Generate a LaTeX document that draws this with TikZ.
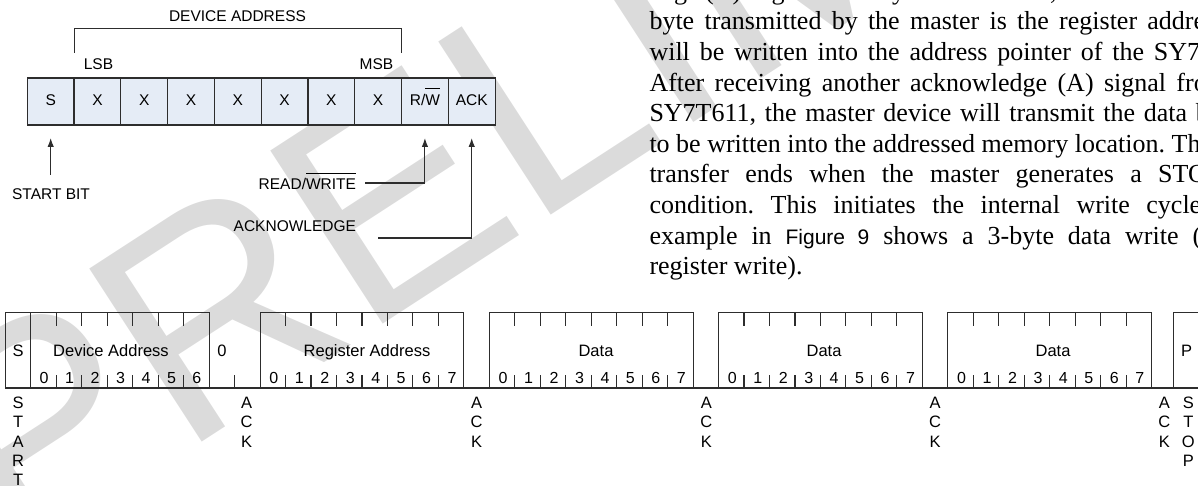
\documentclass[tikz,border=0pt]{standalone}
\usepackage{fontspec}
\setmainfont{Liberation Serif}
\newfontfamily\arial{Liberation Sans}
\usetikzlibrary{arrows.meta}
\definecolor{cellfill}{RGB}{229,236,246}
\definecolor{lncol}{RGB}{45,45,45}
\definecolor{wmcol}{RGB}{219,219,219}
\newcommand{\myovl}[2][6pt]{\setbox0=\hbox{#2}\rlap{\rule[\dimexpr\ht0+#1\relax]{\wd0}{0.9pt}}\box0}
\newcommand{\jl}[2]{\hbox spread #1{#2}}
\frenchspacing
\tikzset{
  every node/.style={inner sep=0pt, outer sep=0pt},
  cell/.style={draw=lncol, line width=1.2pt, fill=cellfill, minimum width=46.78pt, minimum height=47pt, text height=9pt, text depth=0pt, font=\arial\fontsize{15.5}{18}\selectfont},
  lbl/.style={font=\arial\fontsize{15.5}{18}\selectfont, anchor=base},
  blbl/.style={font=\arial\fontsize{16.5}{19}\selectfont, anchor=base},
  dig/.style={font=\arial\fontsize{16}{19}\selectfont, anchor=base},
  ln/.style={draw=lncol, line width=1.1pt},
  brk/.style={draw=lncol, line width=1pt},
  arr/.style={draw=lncol, line width=1.1pt, -{Latex[length=9pt,width=6.5pt]}},
  body/.style={font=\fontsize{26}{30.6}\selectfont, anchor=base west},
}
\begin{document}
\begin{tikzpicture}[x=1pt,y=-1pt]
\useasboundingbox (0,0) rectangle (1198,486);
\clip (0,0) rectangle (1198,486);
% watermark
\node[rotate=33, anchor=base west, text=wmcol, font=\arial\fontsize{300}{300}\selectfont] (wm) at (13.3,564.4) {PRELIMINARY};
% ---------- top diagram ----------
\node[cell] (c0) at (50.69,101.5) {S};
\foreach \i in {1,...,7}
  \node[cell] (c\i) at ({27.3+46.78*(\i+0.5)},101.5) {X};
\node[cell] (c8) at (424.93,101.5) {R/\myovl[6.5pt]{W}};
\node[cell] (c9) at (471.71,101.5) {ACK};
\draw[brk] ([yshift=25pt]c1.north west) -- ([yshift=49pt]c1.north west) -- ([yshift=49pt]c8.north west) -- ([yshift=25pt]c8.north west);
\node[lbl] (da) at (237.5,21.7) {DEVICE ADDRESS};
\node[lbl] (lsb) at (98.5,70) {LSB};
\node[lbl] (msb) at (376.5,70) {MSB};
\node[lbl] (stb) at (51,200) {START BIT};
\node[lbl, anchor=base east] (rwt) at (356,190) {READ/\myovl[5.5pt]{WRITE}};
\node[lbl, anchor=base east] (ackt) at (356,231.5) {ACKNOWLEDGE};
\coordinate (sbs) at (50.69,175);
\coordinate (rwl) at (365,183);
\coordinate (ackl) at (378,238);
\draw[arr] (sbs) -- ([yshift=-13pt]c0.south);
\draw[arr] (rwl) -| ([yshift=-13pt]c8.south);
\draw[arr] (ackl) -| ([yshift=-13pt]c9.south);
% ---------- bottom diagram ----------
\def\yt{312.7}
\def\yb{388}
\draw[ln] (5.4,\yb) -- (1199,\yb);
\draw[ln] ({5.4+25.47*8},\yb) -- ({5.4+25.47*8},\yt) -- (5.4,\yt) -- (5.4,\yb);
\draw[ln] ({5.4+25.47},\yt) -- ({5.4+25.47},\yb);
\foreach \a in {10,19,28,37}
  \draw[ln] ({5.4+25.47*\a},\yb) -- ({5.4+25.47*\a},\yt) -- ({5.4+25.47*(\a+8)},\yt) -- ({5.4+25.47*(\a+8)},\yb);
\draw[ln] (1173.3,\yb) -- (1173.3,\yt) -- (1199,\yt);
% ticks
\foreach \a/\n in {1/6,10/7,19/7,28/7,37/7}{
  \foreach \j in {1,...,\n}{
    \draw[ln] ({5.4+25.47*(\a+\j)},\yt) -- ({5.4+25.47*(\a+\j)},{\yt+13});
    \draw[ln] ({5.4+25.47*(\a+\j)},\yb) -- ({5.4+25.47*(\a+\j)},{\yb-13});
  }
}
\draw[ln] ({5.4+25.47*9},\yb) -- ({5.4+25.47*9},{\yb-13});
% digits
\foreach \d in {0,...,6}
  \node[dig] (dv\d) at ({5.4+25.47*(1+\d+0.5)+0.5},383.3) {\d};
\foreach \a/\nm in {10/ra,19/da1,28/da2,37/da3}{
  \foreach \d in {0,...,7}
    \node[dig] (\nm\d) at ({5.4+25.47*(\a+\d+0.5)+1},383.3) {\d};
}
% labels
\node[blbl] (bs) at (18.1,356) {S};
\node[blbl] (bdev) at (111,356) {Device Address};
\node[blbl] (bzero) at (221.9,356) {0};
\node[blbl] (breg) at (367,356) {Register Address};
\node[blbl] (bd1) at (596,356) {Data};
\node[blbl] (bd2) at (824,356) {Data};
\node[blbl] (bd3) at (1053,356) {Data};
\node[blbl] (bp) at (1186.5,356) {P};
% stacked words
\foreach \l [count=\i from 0] in {S,T,A,R,T}
  \node[blbl] (st\i) at (18.1,{408.3+19.4*\i}) {\l};
\foreach \x [count=\k] in {246.5,476.6,706.3,935.1,1164.3}
  \foreach \l [count=\i from 0] in {A,C,K}
    \node[blbl] (ack\k\i) at (\x,{408.3+19.4*\i}) {\l};
\foreach \l [count=\i from 0] in {S,T,O,P}
  \node[blbl] (sp\i) at (1188.3,{408.3+19.4*\i}) {\l};
% ---------- body text ----------
\node[body] (t0) at (649.5,-0.6) {edge (A) is generated by the SY7T611, the second};
\node[body] (t1) at (649.5,30) {\jl{30pt}{byte transmitted by the master is the register address,}};
\node[body] (t2) at (649.5,60.6) {\jl{30pt}{will be written into the address pointer of the SY7T611.}};
\node[body] (t3) at (649.5,91.2) {\jl{23pt}{After receiving another acknowledge (A) signal from}};
\node[body] (t4) at (649.5,121.8) {\jl{18pt}{SY7T611, the master device will transmit the data byte}};
\node[body] (t5) at (649.5,152.4) {to be written into the addressed memory location. The};
\node[body] (t6) at (649.5,183) {\jl{69pt}{transfer ends when the master generates a STOP}};
\node[body] (t7) at (649.5,213.6) {\jl{60pt}{condition. This initiates the internal write cycle.}};
\node[body] (t8) at (649.5,244.2) {\jl{66pt}{example in {\arial\fontsize{21}{22}\selectfont Figure 9} shows a 3-byte data write (one}};
\node[body] (t9) at (649.5,274.8) {register write).};
\end{tikzpicture}
\end{document}
